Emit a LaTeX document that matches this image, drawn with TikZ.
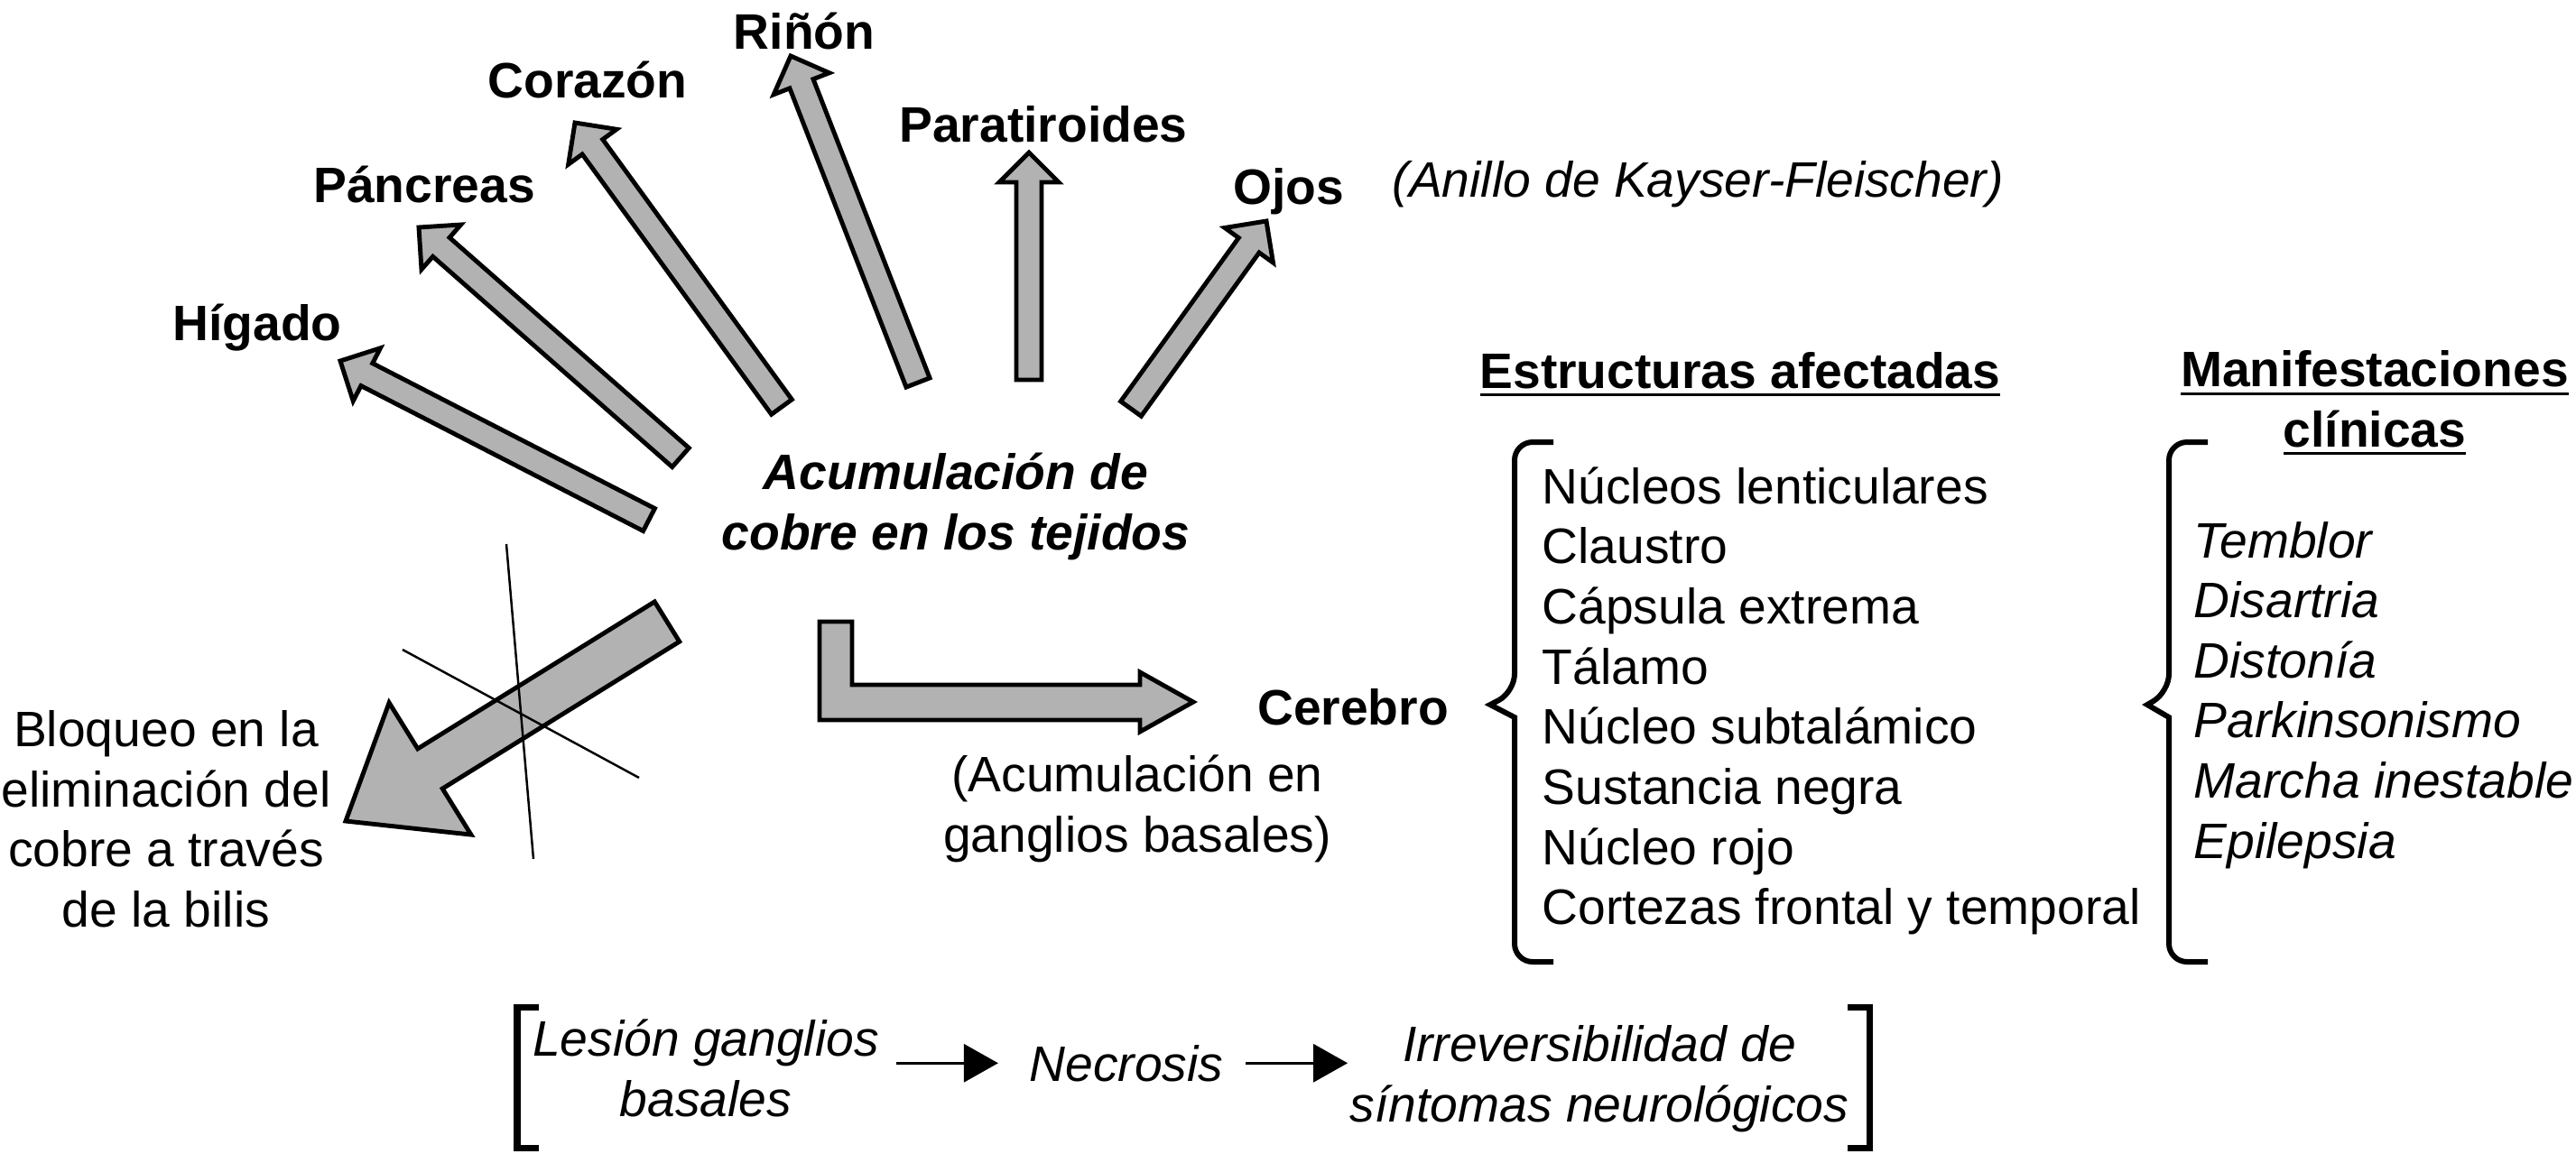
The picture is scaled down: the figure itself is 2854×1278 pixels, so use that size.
\documentclass[tikz,border=0pt]{standalone}
\usepackage{fontspec}
\setmainfont{Liberation Sans}
\usetikzlibrary{positioning, arrows.meta, calc}

% block arrow: tail, tip, shaft half width, head half width, head length
\newcommand{\blockarrow}[5]{
	\coordinate (hb) at ($(#2)!#5!(#1)$);
	\draw[organarrow] ($(#1)!#3!90:(#2)$) -- ($(hb)!#3!90:(#2)$) -- ($(hb)!#4!90:(#2)$) -- (#2)
	-- ($(hb)!#4!-90:(#2)$) -- ($(hb)!#3!-90:(#2)$) -- ($(#1)!#3!-90:(#2)$) -- cycle;
}
% heavier underline for the titles
\newcommand{\thickul}[1]{\setbox0\hbox{#1}\rlap{\rule[-2.6pt]{\wd0}{0.85pt}}\box0}

\tikzset{
	organ/.style={font=\bfseries, inner sep=0pt, anchor=base},
	txt/.style={inner sep=0pt, anchor=base, align=center},
	organarrow/.style={draw=black, fill=black!30, line width=1.4pt, line join=miter},
	bracestyle/.style={line width=1.7pt},
	bracketstyle/.style={line width=2pt},
	flow/.style={-{Triangle[length=0.38cm,width=0.42cm]}, line width=0.9pt},
}

\begin{document}
\fontsize{15.7}{18.9}\selectfont
\begin{tikzpicture}[x=0.01cm, y=-0.01cm]
		\useasboundingbox (0,0) rectangle (2854,1278);
		
		% Organs
		\node[organ] (hig) at (285,377) {Hígado};
		\node[organ] (pan) at (470,224) {Páncreas};
		\node[organ] (cor) at (651,108) {Corazón};
		\node[organ] (rin) at (891,54) {Riñón};
		\node[organ] (par) at (1156,157) {Paratiroides};
		\node[organ] (ojo) at (1428,226) {Ojos};
		\node[txt, anchor=base west, font=\itshape] (kf) at (1542,218) {(Anillo de Kayser-Fleischer)};
		
		% (multi-line texts sit on their last line)
		\node[txt, font=\bfseries\itshape] (acu) at (1059,609) {Acumulación de\\cobre en los tejidos};
		
		% Arrows to the organs
		\coordinate (hig-t) at (719,576); \coordinate (hig-h) at (377,400);
		\coordinate (pan-t) at (754,507); \coordinate (pan-h) at (464,252);
		\coordinate (cor-t) at (866,451); \coordinate (cor-h) at (637,136);
		\coordinate (rin-t) at (1017,424); \coordinate (rin-h) at (876,62);
		\coordinate (par-t) at (1140,421); \coordinate (par-h) at (1140,169);
		\coordinate (ojo-t) at (1253,453); \coordinate (ojo-h) at (1403,245);
		\foreach \o in {hig,pan,cor,rin,par,ojo}
		{\blockarrow{\o-t}{\o-h}{0.14cm}{0.33cm}{0.33cm}}
		
		% Blocked elimination
		\coordinate (bil-t) at (739,689); \coordinate (bil-h) at (383,910);
		\blockarrow{bil-t}{bil-h}{0.26cm}{0.86cm}{1.1cm}
		\draw[line width=0.7pt] (561,603) -- (591,952);
		\draw[line width=0.7pt] (446,720) -- (708,862);
		\node[txt] (blo) at (184,1027) {Bloqueo en la\\eliminación del\\cobre a través\\de la bilis};
		
		% Brain
		\draw[organarrow] (908,689) -- (944,689) -- (944,759) -- (1263,759) -- (1263,745) -- (1322,778)
		-- (1263,811) -- (1263,798) -- (908,798) -- cycle;
		\node[organ] (cer) at (1499,803) {Cerebro};
		\node[txt] (gan) at (1260,944) {(Acumulación en\\ganglios basales)};
		
		% Affected structures
		\node[txt, font=\bfseries] (est) at (1928,430) {\thickul{Estructuras afectadas}};
		\draw[bracestyle] (1721,490) [rounded corners=0.2cm] -- (1678,490) -- (1678,767) [sharp corners] -- (1651,781)
		-- (1678,795) [rounded corners=0.2cm] -- (1678,1066) -- (1721,1066);
		\foreach \s [count=\i] in {Núcleos lenticulares, Claustro, Cápsula extrema, Tálamo,
			Núcleo subtalámico, Sustancia negra, Núcleo rojo, Cortezas frontal y temporal}
		\node[txt, anchor=base west] (est-\i) at (1708,558+66.7*\i-66.7) {\s};
		
		% Clinical manifestations
		\node[txt, font=\bfseries] (man) at (2631,495) {\thickul{Manifestaciones}\\\thickul{clínicas}};
		\draw[bracestyle] (2446,490) [rounded corners=0.2cm] -- (2403,490) -- (2403,767) [sharp corners] -- (2379,781)
		-- (2403,795) [rounded corners=0.2cm] -- (2403,1066) -- (2446,1066);
		\foreach \s [count=\i] in {Temblor, Disartria, Distonía, Parkinsonismo, Marcha inestable, Epilepsia}
		\node[txt, anchor=base west, font=\itshape] (man-\i) at (2430,618+66.6*\i-66.6) {\s};
		
		% Consequence
		\draw[bracketstyle] (597,1116) -- (573,1116) -- (573,1272) -- (597,1272);
		\draw[bracketstyle] (2047,1116) -- (2071,1116) -- (2071,1272) -- (2047,1272);
		\node[txt, font=\itshape] (les) at (782,1237) {Lesión ganglios\\basales};
		\node[txt, font=\itshape] (nec) at (1248,1198) {Necrosis};
		\node[txt, font=\itshape] (irr) at (1772,1243) {Irreversibilidad de\\síntomas neurológicos};
		\draw[flow] ([xshift=0.18cm]les.east |- nec.west) -- ([xshift=-0.34cm]nec.west);
		\draw[flow] ([xshift=0.24cm]nec.east) -- ([xshift=-0.02cm]irr.west |- nec.west);
		
	\end{tikzpicture}
\end{document}
